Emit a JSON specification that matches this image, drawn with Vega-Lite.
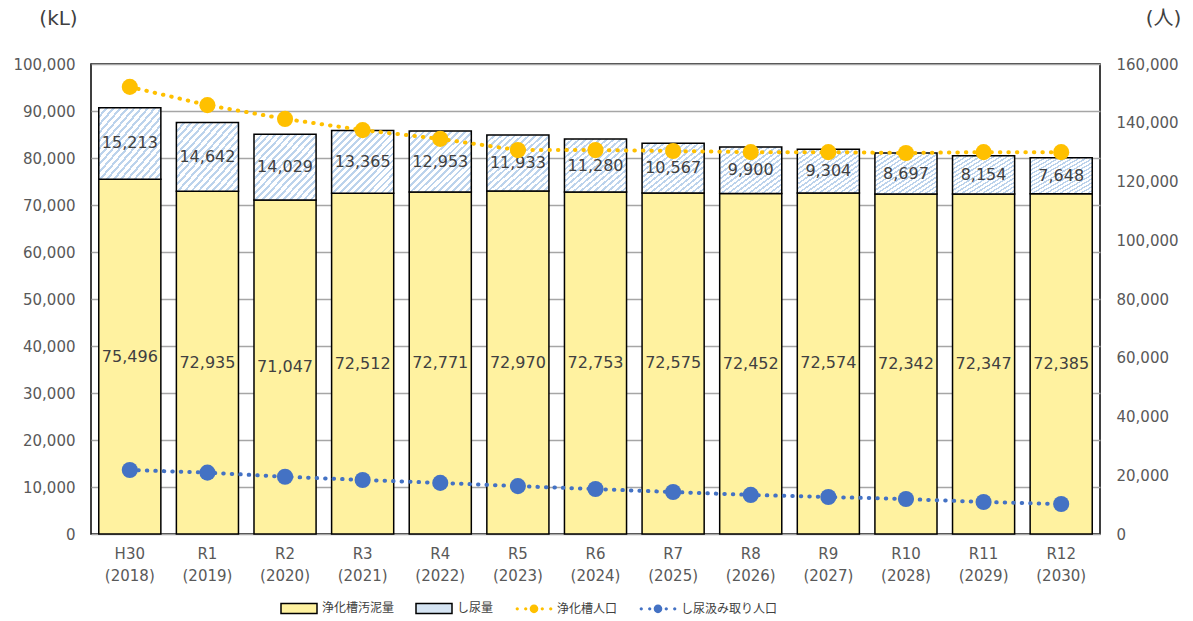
{
  "$schema": "https://vega.github.io/schema/vega-lite/v6.json",
  "autosize": "none",
  "width": 1009,
  "height": 470,
  "padding": {"left": 91, "top": 64, "right": 93, "bottom": 87},
  "background": "#ffffff",
  "config": {
    "font": "DejaVu Sans, Noto Sans CJK JP",
    "view": {"stroke": "#000000", "strokeWidth": 1.5},
    "axis": {"labelFont": "DejaVu Sans, Noto Sans CJK JP", "labelFontSize": 15, "labelColor": "#595959", "ticks": false, "domain": false, "titleFont": "DejaVu Sans, Noto Sans CJK JP", "titleFontWeight": "normal", "titleColor": "#404040"},
    "legend": {"labelFont": "DejaVu Sans, Noto Sans CJK JP", "labelFontSize": 12, "labelColor": "#404040"}
  },
  "datasets": {
    "bars": [
      {"year": "H30 (2018)", "series": "浄化槽汚泥量", "value": 75496},
      {"year": "H30 (2018)", "series": "し尿量", "value": 15213},
      {"year": "R1 (2019)", "series": "浄化槽汚泥量", "value": 72935},
      {"year": "R1 (2019)", "series": "し尿量", "value": 14642},
      {"year": "R2 (2020)", "series": "浄化槽汚泥量", "value": 71047},
      {"year": "R2 (2020)", "series": "し尿量", "value": 14029},
      {"year": "R3 (2021)", "series": "浄化槽汚泥量", "value": 72512},
      {"year": "R3 (2021)", "series": "し尿量", "value": 13365},
      {"year": "R4 (2022)", "series": "浄化槽汚泥量", "value": 72771},
      {"year": "R4 (2022)", "series": "し尿量", "value": 12953},
      {"year": "R5 (2023)", "series": "浄化槽汚泥量", "value": 72970},
      {"year": "R5 (2023)", "series": "し尿量", "value": 11933},
      {"year": "R6 (2024)", "series": "浄化槽汚泥量", "value": 72753},
      {"year": "R6 (2024)", "series": "し尿量", "value": 11280},
      {"year": "R7 (2025)", "series": "浄化槽汚泥量", "value": 72575},
      {"year": "R7 (2025)", "series": "し尿量", "value": 10567},
      {"year": "R8 (2026)", "series": "浄化槽汚泥量", "value": 72452},
      {"year": "R8 (2026)", "series": "し尿量", "value": 9900},
      {"year": "R9 (2027)", "series": "浄化槽汚泥量", "value": 72574},
      {"year": "R9 (2027)", "series": "し尿量", "value": 9304},
      {"year": "R10 (2028)", "series": "浄化槽汚泥量", "value": 72342},
      {"year": "R10 (2028)", "series": "し尿量", "value": 8697},
      {"year": "R11 (2029)", "series": "浄化槽汚泥量", "value": 72347},
      {"year": "R11 (2029)", "series": "し尿量", "value": 8154},
      {"year": "R12 (2030)", "series": "浄化槽汚泥量", "value": 72385},
      {"year": "R12 (2030)", "series": "し尿量", "value": 7648}
    ],
    "pop": [
      {"year": "H30 (2018)", "series": "浄化槽人口", "value": 152200},
      {"year": "R1 (2019)", "series": "浄化槽人口", "value": 146000},
      {"year": "R2 (2020)", "series": "浄化槽人口", "value": 141300},
      {"year": "R3 (2021)", "series": "浄化槽人口", "value": 137500},
      {"year": "R4 (2022)", "series": "浄化槽人口", "value": 134500},
      {"year": "R5 (2023)", "series": "浄化槽人口", "value": 130700},
      {"year": "R6 (2024)", "series": "浄化槽人口", "value": 130700},
      {"year": "R7 (2025)", "series": "浄化槽人口", "value": 130400},
      {"year": "R8 (2026)", "series": "浄化槽人口", "value": 130000},
      {"year": "R9 (2027)", "series": "浄化槽人口", "value": 130000},
      {"year": "R10 (2028)", "series": "浄化槽人口", "value": 129700},
      {"year": "R11 (2029)", "series": "浄化槽人口", "value": 130000},
      {"year": "R12 (2030)", "series": "浄化槽人口", "value": 130000},
      {"year": "H30 (2018)", "series": "し尿汲み取り人口", "value": 21800},
      {"year": "R1 (2019)", "series": "し尿汲み取り人口", "value": 20900},
      {"year": "R2 (2020)", "series": "し尿汲み取り人口", "value": 19500},
      {"year": "R3 (2021)", "series": "し尿汲み取り人口", "value": 18400},
      {"year": "R4 (2022)", "series": "し尿汲み取り人口", "value": 17400},
      {"year": "R5 (2023)", "series": "し尿汲み取り人口", "value": 16300},
      {"year": "R6 (2024)", "series": "し尿汲み取り人口", "value": 15300},
      {"year": "R7 (2025)", "series": "し尿汲み取り人口", "value": 14300},
      {"year": "R8 (2026)", "series": "し尿汲み取り人口", "value": 13300},
      {"year": "R9 (2027)", "series": "し尿汲み取り人口", "value": 12600},
      {"year": "R10 (2028)", "series": "し尿汲み取り人口", "value": 11900},
      {"year": "R11 (2029)", "series": "し尿汲み取り人口", "value": 10900},
      {"year": "R12 (2030)", "series": "し尿汲み取り人口", "value": 10200}
    ]
  },
  "encoding": {
    "x": {
      "field": "year", "type": "nominal",
      "scale": {"domain": ["H30 (2018)", "R1 (2019)", "R2 (2020)", "R3 (2021)", "R4 (2022)", "R5 (2023)", "R6 (2024)", "R7 (2025)", "R8 (2026)", "R9 (2027)", "R10 (2028)", "R11 (2029)", "R12 (2030)"], "paddingInner": 0.2, "paddingOuter": 0.1},
      "axis": {"title": null, "labelAngle": 0, "labelExpr": "split(datum.label, ' ')", "labelLineHeight": 22, "labelPadding": 12}
    }
  },
  "layer": [
    {
      "data": {"name": "bars"},
      "mark": {"type": "bar", "stroke": "#000000", "strokeWidth": 1.5},
      "encoding": {
        "y": {"field": "value", "type": "quantitative", "stack": "zero",
          "scale": {"domain": [0, 100000], "nice": false},
          "axis": {"title": "(kL)", "titleAngle": 0, "titleX": -33, "titleY": -46, "titleAlign": "center", "titleBaseline": "middle", "titleFontSize": 20, "format": ",d", "values": [0, 10000, 20000, 30000, 40000, 50000, 60000, 70000, 80000, 90000, 100000], "labelPadding": 16, "grid": true, "gridColor": "#a6a6a6", "gridWidth": 1.5}},
        "order": {"field": "series", "sort": "descending"},
        "detail": {"field": "series", "type": "nominal"},
        "fill": {
          "condition": {
            "test": "datum.series === 'し尿量'",
            "value": {"gradient": "linear", "x1": 0, "y1": 0, "x2": 1, "y2": 1, "stops": [
              {"offset": 0, "color": "#bcd3ec"}, {"offset": 0.0222, "color": "#bcd3ec"}, {"offset": 0.0222, "color": "#ffffff"}, {"offset": 0.0556, "color": "#ffffff"},
              {"offset": 0.0556, "color": "#bcd3ec"}, {"offset": 0.0778, "color": "#bcd3ec"}, {"offset": 0.0778, "color": "#ffffff"}, {"offset": 0.1111, "color": "#ffffff"},
              {"offset": 0.1111, "color": "#bcd3ec"}, {"offset": 0.1333, "color": "#bcd3ec"}, {"offset": 0.1333, "color": "#ffffff"}, {"offset": 0.1667, "color": "#ffffff"},
              {"offset": 0.1667, "color": "#bcd3ec"}, {"offset": 0.1889, "color": "#bcd3ec"}, {"offset": 0.1889, "color": "#ffffff"}, {"offset": 0.2222, "color": "#ffffff"},
              {"offset": 0.2222, "color": "#bcd3ec"}, {"offset": 0.2444, "color": "#bcd3ec"}, {"offset": 0.2444, "color": "#ffffff"}, {"offset": 0.2778, "color": "#ffffff"},
              {"offset": 0.2778, "color": "#bcd3ec"}, {"offset": 0.3, "color": "#bcd3ec"}, {"offset": 0.3, "color": "#ffffff"}, {"offset": 0.3333, "color": "#ffffff"},
              {"offset": 0.3333, "color": "#bcd3ec"}, {"offset": 0.3556, "color": "#bcd3ec"}, {"offset": 0.3556, "color": "#ffffff"}, {"offset": 0.3889, "color": "#ffffff"},
              {"offset": 0.3889, "color": "#bcd3ec"}, {"offset": 0.4111, "color": "#bcd3ec"}, {"offset": 0.4111, "color": "#ffffff"}, {"offset": 0.4444, "color": "#ffffff"},
              {"offset": 0.4444, "color": "#bcd3ec"}, {"offset": 0.4667, "color": "#bcd3ec"}, {"offset": 0.4667, "color": "#ffffff"}, {"offset": 0.5, "color": "#ffffff"},
              {"offset": 0.5, "color": "#bcd3ec"}, {"offset": 0.5222, "color": "#bcd3ec"}, {"offset": 0.5222, "color": "#ffffff"}, {"offset": 0.5556, "color": "#ffffff"},
              {"offset": 0.5556, "color": "#bcd3ec"}, {"offset": 0.5778, "color": "#bcd3ec"}, {"offset": 0.5778, "color": "#ffffff"}, {"offset": 0.6111, "color": "#ffffff"},
              {"offset": 0.6111, "color": "#bcd3ec"}, {"offset": 0.6333, "color": "#bcd3ec"}, {"offset": 0.6333, "color": "#ffffff"}, {"offset": 0.6667, "color": "#ffffff"},
              {"offset": 0.6667, "color": "#bcd3ec"}, {"offset": 0.6889, "color": "#bcd3ec"}, {"offset": 0.6889, "color": "#ffffff"}, {"offset": 0.7222, "color": "#ffffff"},
              {"offset": 0.7222, "color": "#bcd3ec"}, {"offset": 0.7444, "color": "#bcd3ec"}, {"offset": 0.7444, "color": "#ffffff"}, {"offset": 0.7778, "color": "#ffffff"},
              {"offset": 0.7778, "color": "#bcd3ec"}, {"offset": 0.8, "color": "#bcd3ec"}, {"offset": 0.8, "color": "#ffffff"}, {"offset": 0.8333, "color": "#ffffff"},
              {"offset": 0.8333, "color": "#bcd3ec"}, {"offset": 0.8556, "color": "#bcd3ec"}, {"offset": 0.8556, "color": "#ffffff"}, {"offset": 0.8889, "color": "#ffffff"},
              {"offset": 0.8889, "color": "#bcd3ec"}, {"offset": 0.9111, "color": "#bcd3ec"}, {"offset": 0.9111, "color": "#ffffff"}, {"offset": 0.9444, "color": "#ffffff"},
              {"offset": 0.9444, "color": "#bcd3ec"}, {"offset": 0.9667, "color": "#bcd3ec"}, {"offset": 0.9667, "color": "#ffffff"}, {"offset": 1, "color": "#ffffff"}
            ]}
          },
          "value": "#fff2a0"
        }
      }
    },
    {
      "data": {"name": "bars"},
      "mark": {"type": "text", "fontSize": 16, "color": "#404040", "font": "DejaVu Sans"},
      "encoding": {
        "y": {"field": "value", "type": "quantitative", "stack": "zero", "bandPosition": 0.5, "scale": {"domain": [0, 100000], "nice": false}, "axis": null},
        "detail": {"field": "series"},
        "order": {"field": "series", "sort": "descending"},
        "text": {"field": "value", "type": "quantitative", "format": ","}
      }
    },
    {
      "data": {"name": "pop"},
      "mark": {"type": "line", "strokeWidth": 4, "strokeDash": [0.5, 8], "strokeCap": "round"},
      "encoding": {
        "y": {"field": "value", "type": "quantitative",
          "scale": {"domain": [0, 160000], "nice": false},
          "axis": {"orient": "right", "title": "(人)", "titleAngle": 0, "titleX": 63, "titleY": -46, "titleAlign": "center", "titleBaseline": "middle", "titleFontSize": 20, "format": ",d", "values": [0, 20000, 40000, 60000, 80000, 100000, 120000, 140000, 160000], "labelPadding": 16, "grid": false}},
        "detail": {"field": "series", "type": "nominal"},
        "stroke": {"condition": {"test": "datum.series === '浄化槽人口'", "value": "#ffc000"}, "value": "#4472c4"}
      }
    },
    {
      "data": {"name": "pop"},
      "mark": {"type": "point", "filled": true, "size": 260, "opacity": 1},
      "encoding": {
        "y": {"field": "value", "type": "quantitative", "scale": {"domain": [0, 160000], "nice": false}, "axis": null},
        "color": {"field": "series", "type": "nominal",
          "scale": {"domain": ["浄化槽汚泥量", "し尿量", "浄化槽人口", "し尿汲み取り人口"], "range": ["#fff2a0", "#d5e4f3", "#ffc000", "#4472c4"]},
          "legend": {"title": null, "orient": "none", "direction": "horizontal", "columns": 4, "legendX": 189, "legendY": 525, "symbolSize": 1296, "columnPadding": 18, "labelOffset": 4, "values": ["浄化槽汚泥量", "し尿量", "浄化槽人口", "し尿汲み取り人口"]}},
        "shape": {
          "condition": {"test": "true", "value": "circle"},
          "field": "series", "type": "nominal",
          "scale": {"domain": ["浄化槽汚泥量", "し尿量", "浄化槽人口", "し尿汲み取り人口"], "range": ["M-1,-0.28H1V0.28H-1Z", "M-1,-0.28H1V0.28H-1Z", "M-1.02,0A0.09,0.09,0,1,0,-0.84,0A0.09,0.09,0,1,0,-1.02,0ZM-0.55,0A0.09,0.09,0,1,0,-0.37,0A0.09,0.09,0,1,0,-0.55,0ZM-0.24,0A0.24,0.24,0,1,0,0.24,0A0.24,0.24,0,1,0,-0.24,0ZM0.37,0A0.09,0.09,0,1,0,0.55,0A0.09,0.09,0,1,0,0.37,0ZM0.84,0A0.09,0.09,0,1,0,1.02,0A0.09,0.09,0,1,0,0.84,0Z", "M-1.02,0A0.09,0.09,0,1,0,-0.84,0A0.09,0.09,0,1,0,-1.02,0ZM-0.55,0A0.09,0.09,0,1,0,-0.37,0A0.09,0.09,0,1,0,-0.55,0ZM-0.24,0A0.24,0.24,0,1,0,0.24,0A0.24,0.24,0,1,0,-0.24,0ZM0.37,0A0.09,0.09,0,1,0,0.55,0A0.09,0.09,0,1,0,0.37,0ZM0.84,0A0.09,0.09,0,1,0,1.02,0A0.09,0.09,0,1,0,0.84,0Z"]},
          "legend": {"title": null, "orient": "none", "direction": "horizontal", "columns": 4, "legendX": 189, "legendY": 525, "symbolSize": 1296, "columnPadding": 18, "labelOffset": 4, "values": ["浄化槽汚泥量", "し尿量", "浄化槽人口", "し尿汲み取り人口"]}
        },
        "stroke": {
          "condition": {"test": "true", "value": "transparent"},
          "field": "series", "type": "nominal",
          "scale": {"domain": ["浄化槽汚泥量", "し尿量", "浄化槽人口", "し尿汲み取り人口"], "range": ["#000000", "#000000", "transparent", "transparent"]},
          "legend": {"title": null, "orient": "none", "direction": "horizontal", "columns": 4, "legendX": 189, "legendY": 525, "symbolSize": 1296, "columnPadding": 18, "labelOffset": 4, "values": ["浄化槽汚泥量", "し尿量", "浄化槽人口", "し尿汲み取り人口"]}
        }
      }
    }
  ],
  "resolve": {"scale": {"y": "independent"}}
}
